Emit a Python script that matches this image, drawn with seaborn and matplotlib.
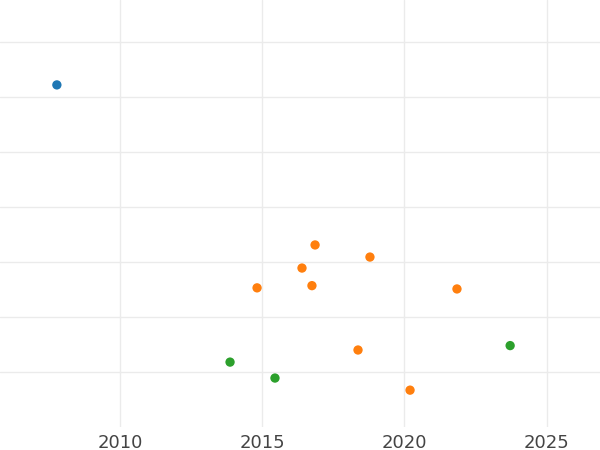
import matplotlib
matplotlib.use("Agg")
import matplotlib.pyplot as plt
import seaborn as sns
import pandas as pd

groups = ["A", "B", "B", "B", "B", "B", "B", "B", "B", "C", "C", "C"]
years = [2007.78, 2016.86, 2018.79, 2016.40, 2014.82, 2016.75, 2021.85, 2018.37, 2020.20,
         2013.87, 2015.45, 2023.72]
values = [5.22, 2.31, 2.09, 1.89, 1.53, 1.57, 1.51, 0.40, -0.33, 0.18, -0.11, 0.48]
x_ticks = [2010, 2015, 2020, 2025]
y_ticks = [0, 1, 2, 3, 4, 5, 6]
palette = {"A": "#1f77b4", "B": "#ff7f0e", "C": "#2ca02c"}

df = pd.DataFrame({"group": groups, "year": years, "value": values})

sns.set_style("white")
fig = plt.figure(figsize=(6, 4.5), dpi=100)
ax = fig.add_axes([0, 23 / 450, 1, 427 / 450])
sns.scatterplot(data=df, x="year", y="value", hue="group", palette=palette,
                s=45, linewidth=0, legend=False, ax=ax, zorder=3)
ax.set_xlim(2005.78, 2026.88)
ax.set_ylim(-1.0, 372 / 55)
ax.set_xticks(x_ticks)
ax.set_yticks(y_ticks)
ax.set_yticklabels([])
ax.grid(True, color="#ebebeb", linewidth=1)
ax.set_axisbelow(True)
for s in ax.spines.values():
    s.set_visible(False)
ax.tick_params(axis="x", length=0, pad=5, labelsize=13, labelcolor="#444444")
ax.tick_params(axis="y", length=0)
ax.set_xlabel("")
ax.set_ylabel("")
fig.savefig("out.png", dpi=100)
